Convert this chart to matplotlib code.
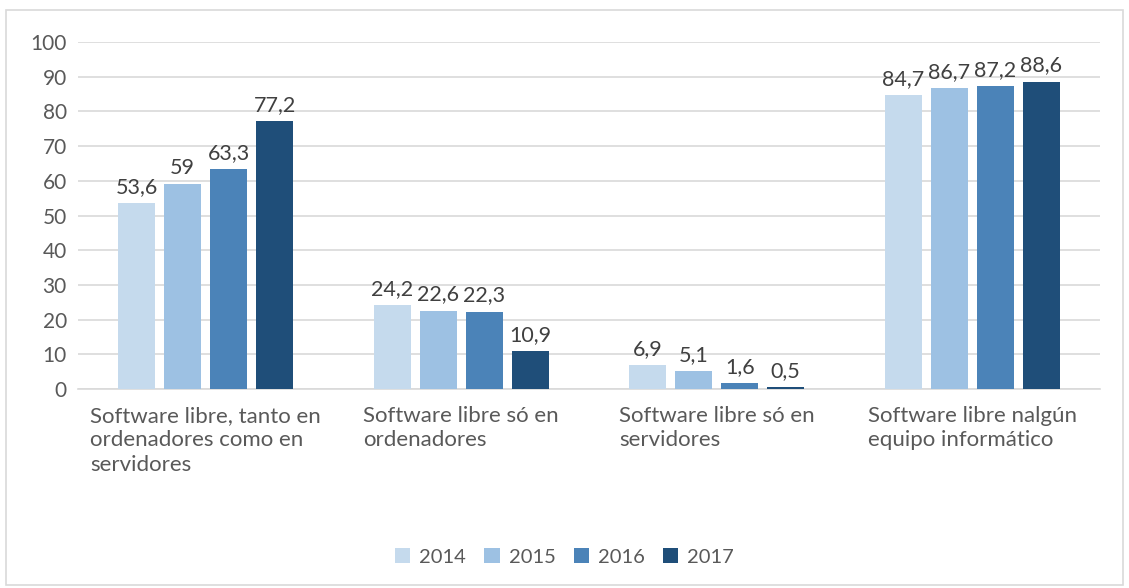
import matplotlib.pyplot as plt
import numpy as np
from matplotlib.patches import Rectangle
from matplotlib.transforms import blended_transform_factory

plt.rcParams['font.family'] = ['Lato', 'DejaVu Sans']

categories = ['Software libre, tanto en\nordenadores como en\nservidores',
              'Software libre só en\nordenadores',
              'Software libre só en\nservidores',
              'Software libre nalgún\nequipo informático']
years = ['2014', '2015', '2016', '2017']
v2014 = [53.6, 24.2, 6.9, 84.7]
v2015 = [59, 22.6, 5.1, 86.7]
v2016 = [63.3, 22.3, 1.6, 87.2]
v2017 = [77.2, 10.9, 0.5, 88.6]
labels2014 = ['53,6', '24,2', '6,9', '84,7']
labels2015 = ['59', '22,6', '5,1', '86,7']
labels2016 = ['63,3', '22,3', '1,6', '87,2']
labels2017 = ['77,2', '10,9', '0,5', '88,6']

series = [v2014, v2015, v2016, v2017]
series_labels = [labels2014, labels2015, labels2016, labels2017]
colors = ['#C5DAED', '#9DC1E3', '#4B83B8', '#1F4E79']
txt = '#595959'

fig = plt.figure(figsize=(11.29, 5.88), dpi=100)
ax = fig.add_axes([78/1129, 1-389/588, (1100-78)/1129, (389-42)/588])

x = np.arange(len(categories))
w = 0.145
step = 0.18
for i, (vals, labs) in enumerate(zip(series, series_labels)):
    pos = x + (i - 1.5) * step
    ax.bar(pos, vals, width=w, color=colors[i], label=years[i], zorder=3)
    for p, v, l in zip(pos, vals, labs):
        ax.text(p, v + 1.8, l, ha='center', va='bottom', fontsize=15.5, color='#404040')

ax.set_xlim(-0.5, 3.5)
ax.set_ylim(0, 100)
ax.set_yticks(range(0, 101, 10))
ax.yaxis.grid(True, color='#D9D9D9', linewidth=1.2, zorder=0)
ax.tick_params(axis='y', length=0, labelsize=15, labelcolor=txt, pad=8)
ax.set_xticks([])
for s in ['top', 'right', 'left']:
    ax.spines[s].set_visible(False)
ax.spines['bottom'].set_color('#D9D9D9')
ax.spines['bottom'].set_linewidth(1.2)

trans = blended_transform_factory(ax.transData, fig.transFigure)
for i, c in enumerate(categories):
    ax.text(i, 1 - 406/588, c, transform=trans, ha='center', va='top',
            multialignment='left', fontsize=16, color=txt, linespacing=1.28)

fig.legend(loc='center', bbox_to_anchor=(0.5, 1 - 557/588), ncol=4, frameon=False,
           fontsize=14.5, labelcolor=txt, handlelength=0.75, handleheight=0.75,
           handletextpad=0.45, columnspacing=0.9)

fig.patches.append(Rectangle((6/1129, 3/588), 1117/1129, 575/588, transform=fig.transFigure,
                             fill=False, edgecolor='#D9D9D9', linewidth=1.2))

fig.savefig('out.png', dpi=100)
